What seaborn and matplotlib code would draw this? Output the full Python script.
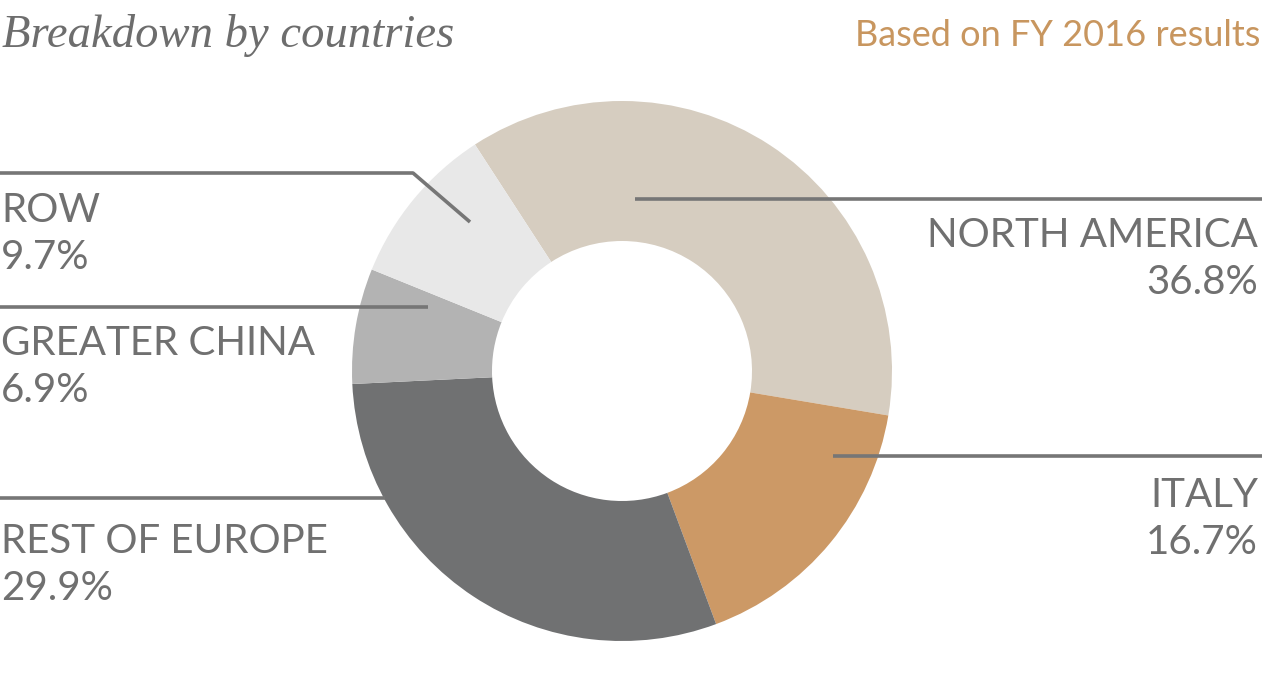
import matplotlib
matplotlib.use("Agg")
import matplotlib.pyplot as plt
import seaborn as sns

# Breakdown by countries, FY 2016
regions = ["NORTH AMERICA", "ITALY", "REST OF EUROPE", "GREATER CHINA", "ROW"]
shares = [36.8, 16.7, 29.9, 6.9, 9.7]
colors = ["#d6cdc0", "#cc9966", "#707172", "#b3b3b3", "#e8e8e8"]

title = "Breakdown by countries"
subtitle = "Based on FY 2016 results"

sns.set_theme(style="white")
plt.rcParams["font.family"] = ["Lato", "DejaVu Sans"]

W, H = 1262, 692
fig = plt.figure(figsize=(W / 100, H / 100), dpi=100)
ax = fig.add_axes([0, 0, 1, 1])

# donut, in pixel coordinates (y measured from bottom)
cx, cy = 622, H - 371
ax.pie(shares, colors=colors, startangle=123, counterclock=False,
       radius=270, center=(cx, cy), frame=True,
       wedgeprops=dict(width=140, edgecolor="none"))
ax.set_xlim(0, W)
ax.set_ylim(0, H)
ax.set_aspect("equal")
ax.axis("off")

text_color = "#707070"
line_color = "#767676"


def py(y):
    return H - y


# leader lines and labels: (line points, label x, first baseline, alignment)
labels = {
    "ROW": ([(0, 173), (413, 173), (470, 222)], 1, 222, "left"),
    "GREATER CHINA": ([(0, 307), (428, 307)], 1, 355, "left"),
    "REST OF EUROPE": ([(0, 498), (385, 498)], 1, 553, "left"),
    "NORTH AMERICA": ([(635, 199), (1262, 199)], 1258, 247, "right"),
    "ITALY": ([(833, 456), (1262, 456)], 1258, 507, "right"),
}

for name, share in zip(regions, shares):
    pts, tx, base, ha = labels[name]
    ax.plot([p[0] for p in pts], [py(p[1]) for p in pts],
            color=line_color, lw=2.6, solid_capstyle="butt", zorder=5)
    ax.text(tx, py(base), name, ha=ha, va="baseline", fontsize=29,
            color=text_color)
    ax.text(tx, py(base + 47), f"{share}%", ha=ha, va="baseline", fontsize=29,
            color=text_color)

ax.text(2, py(47), title, ha="left", va="baseline", fontsize=33.6,
        family=["Liberation Serif", "DejaVu Serif"], style="italic",
        color="#6d6d6d")
ax.text(1260, py(46), subtitle, ha="right", va="baseline", fontsize=26,
        color="#c8965f")

fig.savefig("out.png", dpi=100)
